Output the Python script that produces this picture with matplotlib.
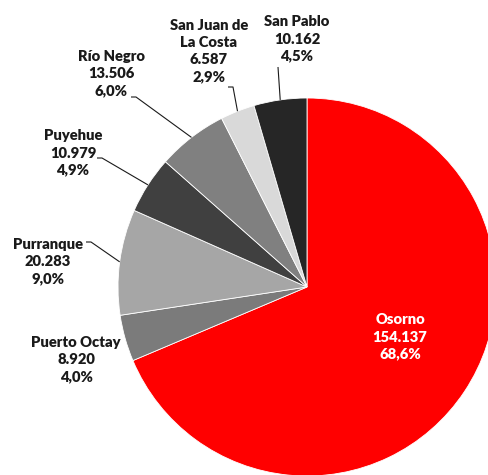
import numpy as np
import matplotlib
matplotlib.use("Agg")
import matplotlib.pyplot as plt

names = ["Osorno", "Puerto Octay", "Purranque", "Puyehue", "Río Negro",
         "San Juan de\nLa Costa", "San Pablo"]
values = [154137, 8920, 20283, 10979, 13506, 6587, 10162]
colors = ["#ff0000", "#7b7b7b", "#a6a6a6", "#404040", "#808080", "#d9d9d9", "#262626"]

W, H = 489, 475
fig = plt.figure(figsize=(W / 100, H / 100), dpi=100)
ax = fig.add_axes([0, 0, 1, 1])

cx, cy, R = 307, H - 287, 189
ax.pie(values, colors=colors, startangle=90, counterclock=False,
       center=(cx, cy), radius=R, frame=True,
       wedgeprops=dict(linewidth=0.6, edgecolor="white"))
ax.set_xlim(0, W)
ax.set_ylim(0, H)
ax.axis("off")

total = sum(values)
def fmt_num(v):
    return f"{v:,}".replace(",", ".")
def fmt_pct(v):
    return f"{100 * v / total:.1f}%".replace(".", ",")

# label centres (pixel coords, top-down)
label_pos = {
    "Osorno": (400, 337),
    "Puerto Octay": (76, 360),
    "Purranque": (48, 262),
    "Puyehue": (73, 153),
    "Río Negro": (111, 74),
    "San Juan de\nLa Costa": (209, 51),
    "San Pablo": (297, 39),
}
# leader start points (pixel coords, top-down)
leader_start = {
    "Purranque": (86, 242),
    "Puyehue": (97, 158),
    "Río Negro": (131, 97),
    "San Juan de\nLa Costa": (228, 87),
    "San Pablo": (278, 67),
}

cum = 0
font = ["Lato", "DejaVu Sans"]
for name, v in zip(names, values):
    mid = cum + v / 2
    cum += v
    ang = np.deg2rad(90 - 360 * mid / total)
    ex, ey = cx + R * np.cos(ang), cy + R * np.sin(ang)
    lx, ly = label_pos[name]
    col = "white" if name == "Osorno" else "#1a1a1a"
    ax.text(lx, H - ly, f"{name}\n{fmt_num(v)}\n{fmt_pct(v)}", ha="center", va="center",
            fontsize=10.6, fontweight="heavy", color=col, family=font, linespacing=1.37)
    if name in leader_start:
        sx, sy = leader_start[name]
        if name == "San Pablo":
            xs = [sx, ex]
            ys = [H - sy, ey]
        else:
            xs = [sx, sx + 5, ex]
            ys = [H - sy, H - sy, ey]
        ax.plot(xs, ys, color="#1a1a1a", lw=0.8, solid_capstyle="butt")

fig.savefig("out.png", dpi=100, facecolor="white")
